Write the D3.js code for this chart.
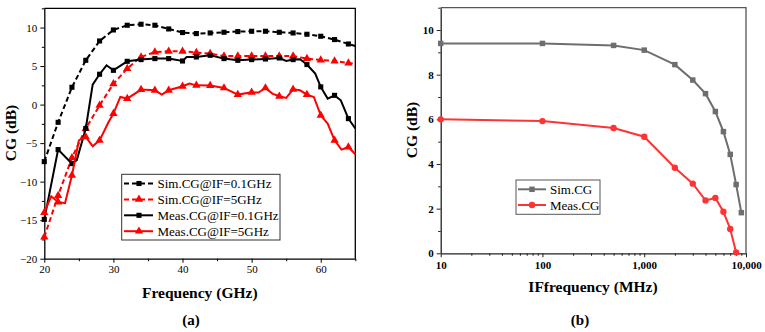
<!DOCTYPE html>
<html><head><meta charset="utf-8">
<script src="https://cdn.jsdelivr.net/npm/d3@7/dist/d3.min.js"></script>
</head><body style="margin:0;background:#fff"><svg id="c" width="765" height="332" font-family="Liberation Serif" style="display:block"></svg>
<script>
// ---------- Data: chart (a) ----------
const freqSim01 = [20,22,24,26,28,30,32,34,36,38,40,42,44,46,48,50,52,54,56,58,60,62,64,65];
const simCG01   = [-7.4,-2.3,2.25,5.75,8.26,9.69,10.3,10.43,10.3,9.82,9.35,9.22,9.3,9.39,9.48,9.52,9.52,9.39,9.3,9.13,8.87,8.44,7.87,7.6];
const freqSim5  = [20,22,24,26,28,30,32,34,36,38,40,42,44,46,48,50,52,54,56,58,60,62,64,65];
const simCG5    = [-17.2,-11.8,-6.9,-3.1,-0.1,2.7,4.68,6.18,6.83,6.92,6.92,6.75,6.62,6.3,6.3,6.3,6.3,6.3,6.3,5.97,5.79,5.66,5.4,5.3];
const freqMeas01 = [20,22,24,24.7,26,27,28,29,30,32,34,36,38,40,40.6,42,44,46,48,50,52,54,55,56,57,58,59.2,60,61,62,62.9,64,65];
const measCG01   = [-14.9,-5.84,-7.66,-7.2,-3.1,2.6,3.94,5.1,4.45,5.62,5.84,5.97,5.97,5.66,6.18,6.18,6.4,5.97,5.75,5.84,5.92,6.05,5.66,5.84,5.88,5.2,4.03,2.3,0.78,1.2,0.56,-1.82,-3.1];
const measMarkF01 = [20,22,24,26,28,30,32,34,36,38,40,42,44,46,48,50,52,54,56,58,60,62,64];
const freqMeas5 = [20,21,22,23,24,25,26,27,28,29.3,30,31,32,34,36,37,38,40,41,42,44,46,48,50,51,52,53,54,55,56,57,58,59,60,61,62,63,64,65];
const measCG5   = [-14,-11.9,-12.65,-12.8,-9.18,-4.64,-4.2,-5.4,-4.64,-2.26,-1.17,0.99,0.78,1.95,1.86,1.3,1.86,2.38,2.73,2.5,2.47,2.16,1.3,1.6,1.56,2.16,1.43,1.08,0.86,1.99,1.86,1.3,0.99,-1.39,-2.47,-4.64,-5.84,-5.5,-6.45];
const measMarkF5 = [20,22,24,26,28,30,32,34,36,38,40,42,44,46,48,50,52,54,56,58,60,62,64];
const xTicksA = [20,30,40,50,60];
const yTicksA = [-20,-15,-10,-5,0,5,10];
const legendA = ["Sim.CG@IF=0.1GHz","Sim.CG@IF=5GHz","Meas.CG@IF=0.1GHz","Meas.CG@IF=5GHz"];

// ---------- Data: chart (b) ----------
const ifFreq = [10,100,500,1000,2000,3000,4000,5000,6000,7000,8000,9000];
const simCG  = [9.4,9.4,9.31,9.1,8.45,7.76,7.15,6.35,5.45,4.43,3.08,1.82];
const measFreq = [10,100,500,1000,2000,3000,4000,5000,6000,7000,8000];
const measCG = [6.0,5.92,5.61,5.22,3.83,3.12,2.37,2.48,1.86,1.09,0.04];
const xTicksB = [10,100,1000,10000];
const xTickLabelsB = ["10","100","1,000","10,000"];
const yTicksB = [0,2,4,6,8,10];
const legendB = ["Sim.CG","Meas.CG"];

const FONT = "Liberation Serif";
const svg = d3.select("#c");

function valAt(fs, vs, f){ return vs[fs.indexOf(f)]; }
function styleAxis(g, color, bold){
  g.attr("font-family", FONT);
  g.select(".domain").attr("stroke", color).attr("stroke-width", 1.3);
  g.selectAll(".tick line").attr("stroke", color);
  g.selectAll("text").attr("font-size", 11).attr("fill", "#000")
    .attr("font-family", FONT).attr("font-weight", bold ? "bold" : null);
}
function minorAxis(g, color){
  g.select(".domain").remove();
  g.selectAll("line").attr("stroke", color);
}

// ================= Chart (a) =================
const xA = d3.scaleLinear().domain([20,65]).range([44.3,355.3]);
const yA = d3.scaleLinear().domain([-20,12.5]).range([258.7,8.3]);
const gA = svg.append("g");

gA.append("g").attr("transform","translate(0,258.7)")
  .call(d3.axisBottom(xA).tickValues([25,35,45,55,65]).tickSize(2.5).tickFormat(""))
  .call(g=>minorAxis(g,"#000"));
gA.append("g").attr("transform","translate(44.3,0)")
  .call(d3.axisLeft(yA).tickValues([-17.5,-12.5,-7.5,-2.5,2.5,7.5,12.5]).tickSize(2.5).tickFormat(""))
  .call(g=>minorAxis(g,"#000"));
gA.append("g").attr("transform","translate(0,258.7)")
  .call(d3.axisBottom(xA).tickValues(xTicksA).tickSize(4).tickPadding(3).tickSizeOuter(0))
  .call(g=>styleAxis(g,"#000",false));
gA.append("g").attr("transform","translate(44.3,0)")
  .call(d3.axisLeft(yA).tickValues(yTicksA).tickSize(4).tickPadding(3).tickSizeOuter(0)
    .tickFormat(d=>d<0?"\u2212"+Math.abs(d):d))
  .call(g=>styleAxis(g,"#000",false));
gA.append("path").attr("d",`M${xA(20)},${yA(12.5)}H${xA(65)}V${yA(-20)}`)
  .attr("fill","none").attr("stroke","#000").attr("stroke-width",1.3);

const lineA = d3.line().x(d=>xA(d[0])).y(d=>yA(d[1]));
const sq = d3.symbol().type(d3.symbolSquare).size(26);
const tri = d3.symbol().type(d3.symbolTriangle).size(30);
const seriesA = [
  {f:freqSim01, v:simCG01, mf:freqSim01.filter(f=>f!==65), c:"#000", dash:"5,3", sym:sq},
  {f:freqSim5, v:simCG5, mf:freqSim5.filter(f=>f!==65), c:"#ff0000", dash:"5,3", sym:tri},
  {f:freqMeas01, v:measCG01, mf:measMarkF01, c:"#000", dash:null, sym:sq},
  {f:freqMeas5, v:measCG5, mf:measMarkF5, c:"#ff0000", dash:null, sym:tri}
];
seriesA.forEach(s=>{
  const pts = s.f.map((f,i)=>[f,s.v[i]]);
  gA.append("path").attr("d",lineA(pts)).attr("fill","none").attr("stroke",s.c)
    .attr("stroke-width",2).attr("stroke-dasharray",s.dash);
  gA.selectAll(null).data(s.mf.map(f=>[f,valAt(s.f,s.v,f)])).enter().append("path")
    .attr("d",s.sym).attr("fill",s.c)
    .attr("transform",d=>`translate(${xA(d[0])},${yA(d[1])})`);
});
const legA = gA.append("g");
legA.append("rect").attr("x",121.7).attr("y",174.3).attr("width",158.3).attr("height",65.7)
  .attr("fill","#fff").attr("stroke","#333").attr("stroke-width",1);
legendA.forEach((t,i)=>{
  const s = seriesA[i], y = 183.5 + i*15.9;
  legA.append("line").attr("x1",124).attr("x2",153).attr("y1",y).attr("y2",y)
    .attr("stroke",s.c).attr("stroke-width",2).attr("stroke-dasharray",s.dash);
  legA.append("path").attr("d",s.sym).attr("fill",s.c).attr("transform",`translate(139,${y})`);
  legA.append("text").attr("x",157.5).attr("y",y+4.5).attr("font-size",13)
    .attr("font-family",FONT).text(t);
});
gA.append("text").attr("x",xA(42.5)).attr("y",298).attr("text-anchor","middle").attr("font-family",FONT)
  .attr("font-size",15.5).attr("font-weight","bold").text("Frequency (GHz)");
gA.append("text").attr("transform",`translate(15.5,133) rotate(-90)`).attr("text-anchor","middle").attr("font-family",FONT)
  .attr("font-size",15.5).attr("font-weight","bold").text("CG (dB)");
gA.append("text").attr("x",191).attr("y",325).attr("text-anchor","middle").attr("font-family",FONT)
  .attr("font-size",15).attr("font-weight","bold").text("(a)");

// ================= Chart (b) =================
const xB = d3.scaleLog().domain([10,10000]).range([440.7,746]);
const yB = d3.scaleLinear().domain([0,11]).range([253.3,7.7]);
const gB = svg.append("g");
const axC = "#222";
const minorX = [];
[10,100,1000].forEach(b=>{for(let k=2;k<=9;k++)minorX.push(b*k);});
gB.append("g").attr("transform","translate(0,253.3)")
  .call(d3.axisBottom(xB).tickValues(minorX).tickSize(2.5).tickFormat(""))
  .call(g=>minorAxis(g,axC));
gB.append("g").attr("transform","translate(440.7,0)")
  .call(d3.axisLeft(yB).tickValues([1,3,5,7,9,11]).tickSize(2.5).tickFormat(""))
  .call(g=>minorAxis(g,axC));
gB.append("g").attr("transform","translate(0,253.3)")
  .call(d3.axisBottom(xB).tickValues(xTicksB).tickSize(4).tickPadding(4).tickSizeOuter(0)
    .tickFormat((d,i)=>xTickLabelsB[i]))
  .call(g=>styleAxis(g,axC,true));
gB.append("g").attr("transform","translate(440.7,0)")
  .call(d3.axisLeft(yB).tickValues(yTicksB).tickSize(4).tickPadding(3).tickSizeOuter(0))
  .call(g=>styleAxis(g,axC,true));
gB.append("path").attr("d",`M${xB(10)},${yB(11)}H${xB(10000)}V${yB(0)}`)
  .attr("fill","none").attr("stroke","#555").attr("stroke-width",1.3);

const lineB = d3.line().x(d=>xB(d[0])).y(d=>yB(d[1]));
const sqB = d3.symbol().type(d3.symbolSquare).size(30);
const circB = d3.symbol().type(d3.symbolCircle).size(32);
const seriesB = [
  {f:ifFreq, v:simCG, c:"#6e6e6e", sym:sqB},
  {f:measFreq, v:measCG, c:"#ff3333", sym:circB}
];
seriesB.forEach(s=>{
  const pts = s.f.map((f,i)=>[f,s.v[i]]);
  gB.append("path").attr("d",lineB(pts)).attr("fill","none").attr("stroke",s.c).attr("stroke-width",2);
  gB.selectAll(null).data(pts).enter().append("path").attr("d",s.sym).attr("fill",s.c)
    .attr("transform",d=>`translate(${xB(d[0])},${yB(d[1])})`);
});
const legB = gB.append("g");
legB.append("rect").attr("x",516).attr("y",180).attr("width",84).attr("height",34.3)
  .attr("fill","#fff").attr("stroke","#555").attr("stroke-width",1);
legendB.forEach((t,i)=>{
  const s = seriesB[i], y = 189.3 + i*15.7;
  legB.append("line").attr("x1",518).attr("x2",546).attr("y1",y).attr("y2",y).attr("stroke",s.c).attr("stroke-width",2);
  legB.append("path").attr("d",s.sym).attr("fill",s.c).attr("transform",`translate(532,${y})`);
  legB.append("text").attr("x",550).attr("y",y+4.5).attr("font-size",13).attr("font-family",FONT).text(t);
});
gB.append("text").attr("x",593).attr("y",291.5).attr("text-anchor","middle").attr("font-family",FONT)
  .attr("font-size",15.5).attr("font-weight","bold").text("IFfrequency (MHz)");
gB.append("text").attr("transform",`translate(417,130) rotate(-90)`).attr("text-anchor","middle").attr("font-family",FONT)
  .attr("font-size",15.5).attr("font-weight","bold").text("CG (dB)");
gB.append("text").attr("x",580).attr("y",325).attr("text-anchor","middle").attr("font-family",FONT)
  .attr("font-size",15).attr("font-weight","bold").text("(b)");
</script></body></html>
